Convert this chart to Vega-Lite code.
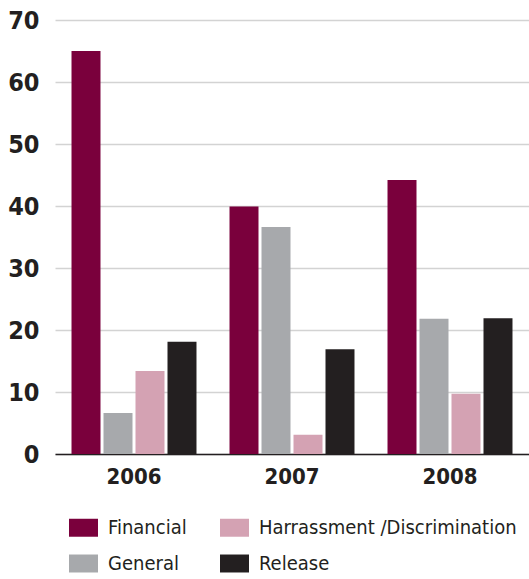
{
  "$schema": "https://vega.github.io/schema/vega-lite/v6.json",
  "width": 474,
  "height": 434,
  "autosize": {"type": "none"},
  "padding": {"left": 55, "top": 20, "right": 0, "bottom": 125},
  "background": "white",
  "config": {
    "view": {"stroke": null},
    "font": "DejaVu Sans Condensed, sans-serif"
  },
  "data": {
    "values": [
      {"year": "2006", "type": "Financial", "value": 65.0},
      {"year": "2006", "type": "General", "value": 6.6},
      {"year": "2006", "type": "Harrassment /Discrimination", "value": 13.4},
      {"year": "2006", "type": "Release", "value": 18.1},
      {"year": "2007", "type": "Financial", "value": 39.9},
      {"year": "2007", "type": "General", "value": 36.6},
      {"year": "2007", "type": "Harrassment /Discrimination", "value": 3.1},
      {"year": "2007", "type": "Release", "value": 16.9},
      {"year": "2008", "type": "Financial", "value": 44.2},
      {"year": "2008", "type": "General", "value": 21.8},
      {"year": "2008", "type": "Harrassment /Discrimination", "value": 9.7},
      {"year": "2008", "type": "Release", "value": 21.9}
    ]
  },
  "mark": {"type": "bar"},
  "encoding": {
    "x": {
      "field": "year",
      "type": "nominal",
      "scale": {"paddingInner": 0, "paddingOuter": 0},
      "axis": {
        "title": null,
        "labelAngle": 0,
        "labelFontSize": 22,
        "labelFontWeight": "bold",
        "labelColor": "#231f20",
        "labelPadding": 12,
        "ticks": false,
        "domainColor": "#231f20",
        "domainWidth": 1.5,
        "grid": false
      }
    },
    "xOffset": {
      "field": "type",
      "type": "nominal",
      "scale": {
        "domain": ["Financial", "General", "Harrassment /Discrimination", "Release"],
        "paddingInner": 0.094,
        "paddingOuter": 0.516
      }
    },
    "y": {
      "field": "value",
      "type": "quantitative",
      "scale": {"domain": [0, 70], "nice": false},
      "axis": {
        "title": null,
        "values": [0, 10, 20, 30, 40, 50, 60, 70],
        "labelFontSize": 25,
        "labelFontWeight": "bold",
        "labelColor": "#231f20",
        "labelPadding": 16,
        "ticks": false,
        "domain": false,
        "gridColor": "#d3d3d3",
        "gridWidth": 1.5
      }
    },
    "color": {
      "field": "type",
      "type": "nominal",
      "scale": {
        "domain": ["Financial", "General", "Harrassment /Discrimination", "Release"],
        "range": ["#7a003c", "#a7a9ac", "#d4a2b3", "#231f20"]
      },
      "legend": {
        "title": null,
        "orient": "none",
        "legendX": 14,
        "legendY": 493,
        "columns": 2,
        "columnPadding": 33,
        "rowPadding": 11,
        "symbolType": "M-1,-0.62H1V0.62H-1Z",
        "symbolSize": 841,
        "symbolStrokeWidth": 0,
        "labelFontSize": 20,
        "labelColor": "#231f20",
        "labelOffset": 10,
        "labelLimit": 400
      }
    }
  }
}
